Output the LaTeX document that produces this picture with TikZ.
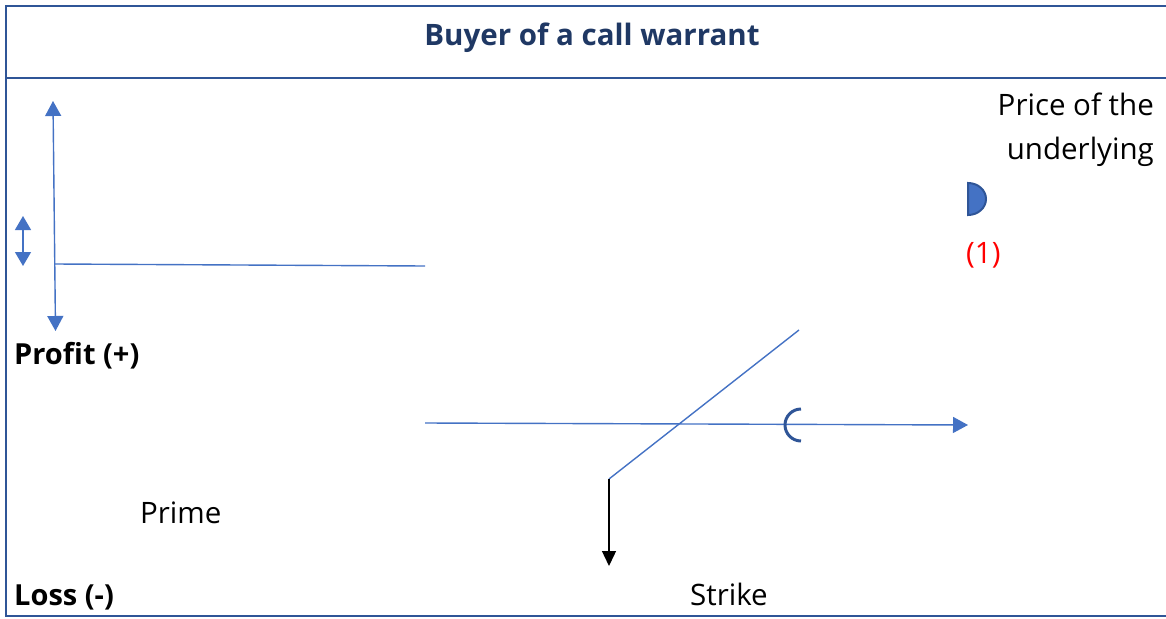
\documentclass[tikz,border=0pt]{standalone}
\usepackage{fontspec}
\setmainfont{Open Sans}
\usetikzlibrary{arrows.meta}
\definecolor{lineblue}{HTML}{4472C4}
\definecolor{frameblue}{HTML}{2F5597}
\definecolor{titleblue}{HTML}{1F3864}
\begin{document}
\begin{tikzpicture}[x=1pt,y=-1pt,
  frame/.style={draw=frameblue,line width=2.2pt},
  curve/.style={draw=lineblue,line width=1.4pt},
  bluetip/.style={-{Triangle[width=16pt,length=15pt]}},
  lbl/.style={inner sep=0pt,anchor=base west,font=\fontsize{29.5}{44}\selectfont},
  boldlbl/.style={lbl,font=\fontsize{29}{44}\selectfont\bfseries}]
\useasboundingbox (0,0) rectangle (1166,618);
% frame
\draw[frame] (1166,6) -- (6,6) -- (6,616) -- (1166,616);
\draw[frame] (6,78) -- (1166,78);
\node[inner sep=0pt,text=titleblue,font=\fontsize{29.5}{32}\selectfont\bfseries] (title) at (592,38) {Buyer of a call warrant};
% coordinates
\coordinate (vtop) at (53,101);
\coordinate (vbot) at (55.5,331);
\coordinate (hl) at (55,264);
\coordinate (hr) at (425,266);
\coordinate (stop) at (23,216);
\coordinate (sbot) at (23,266);
\coordinate (al) at (425,423);
\coordinate (ar) at (968,425);
\coordinate (dlow) at (609,479);
\coordinate (dhigh) at (799,330);
\coordinate (kbot) at (609,566);
% axes
\draw[curve,{Triangle[width=16pt,length=15pt]}-{Triangle[width=16pt,length=15pt]}] (vtop) -- (vbot);
\draw[curve,{Triangle[width=16pt,length=14pt]}-{Triangle[width=16pt,length=14pt]}] (stop) -- (sbot);
\draw[curve] (hl) -- (hr);
\draw[curve,bluetip] (al) -- (ar);
\draw[curve] (dlow) -- (dhigh);
\draw[line width=1.4pt,-{Triangle[width=14pt,length=15pt]}] (dlow) -- (kbot);
% brackets
\draw[draw=frameblue,line width=3pt] (801,409) arc (270:90:16);
\filldraw[fill=lineblue,draw=frameblue,line width=2pt] (968,215) arc [start angle=90,end angle=-90,x radius=18,y radius=16] -- cycle;
% labels
\node[lbl,align=right,anchor=north east] (price) at (1154,93) {Price of the\\underlying};
\node[lbl,text=red] (one) at (966,263) {(1)};
\node[boldlbl] (profit) at (14,364) {Profit (+)};
\node[lbl] (prime) at (140,523) {Prime};
\node[boldlbl] (loss) at (14,605) {Loss (-)};
\node[lbl] (strike) at (690,605) {Strike};
\end{tikzpicture}
\end{document}
